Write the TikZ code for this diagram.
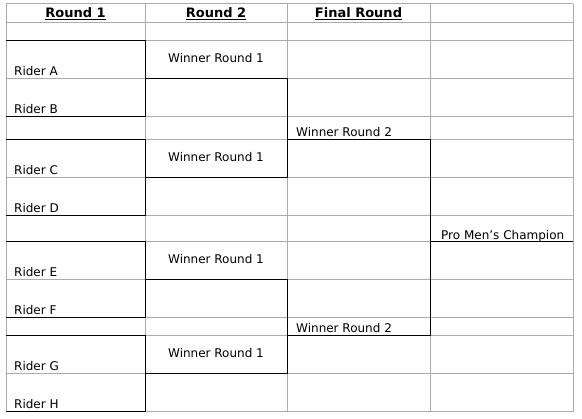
\documentclass[tikz,border=0pt]{standalone}
\usepackage{fontspec}
\setmainfont{DejaVu Sans}
\usepackage{xcolor}
\usepackage{tikz}
\definecolor{cellgray}{HTML}{ABABAB}

\begin{document}
\begin{tikzpicture}[x=1pt, y=-1pt,
    gridline/.style={cellgray, line width=1pt},
    bracket/.style={black, line width=1pt},
    cellhead/.style={anchor=base, inner sep=0pt, font=\fontsize{13}{15}\selectfont\bfseries},
    celltext/.style={anchor=base west, inner sep=0pt, font=\fontsize{12}{14}\selectfont},
    winnertext/.style={anchor=base, inner sep=0pt, font=\fontsize{12}{14}\selectfont}]
    \useasboundingbox (0,0) rectangle (582,419);

    % Draw cell grid
    \foreach \y in {4,23,41,79,117,140,178,216,242,280,318,336,374,412}
        \draw[gridline] (6,\y) -- (573,\y);
    \foreach \x in {6,145,287,430,573}
        \draw[gridline] (\x,4) -- (\x,412);

    % Round 1 brackets
    \draw[bracket] (6,41) -- (145,41) -- (145,117) -- (6,117);
    \draw[bracket] (6,140) -- (145,140) -- (145,216) -- (6,216);
    \draw[bracket] (6,242) -- (145,242) -- (145,318) -- (6,318);
    \draw[bracket] (6,336) -- (145,336) -- (145,412) -- (6,412);

    % Round 2 brackets
    \draw[bracket] (145,79) -- (287,79) -- (287,178) -- (145,178);
    \draw[bracket] (145,280) -- (287,280) -- (287,374) -- (145,374);

    % Final round bracket
    \draw[bracket] (287,140) -- (430,140) -- (430,336) -- (287,336);
    \draw[bracket] (430,242) -- (573,242);

    % Headers
    \node[cellhead] (headOne) at (75.5,18) {\underline{Round 1}};
    \node[cellhead] (headTwo) at (216,18) {\underline{Round 2}};
    \node[cellhead] (headFinal) at (358.5,18) {\underline{Final Round}};

    % Riders
    \node[celltext] (riderA) at (14,76) {Rider A};
    \node[celltext] (riderB) at (14,114) {Rider B};
    \node[celltext] (riderC) at (14,175) {Rider C};
    \node[celltext] (riderD) at (14,213) {Rider D};
    \node[celltext] (riderE) at (14,277) {Rider E};
    \node[celltext] (riderF) at (14,315) {Rider F};
    \node[celltext] (riderG) at (14,371) {Rider G};
    \node[celltext] (riderH) at (14,409) {Rider H};

    % Winners
    \node[winnertext] (winOneA) at (216,62.5) {Winner Round 1};
    \node[winnertext] (winOneB) at (216,161.5) {Winner Round 1};
    \node[winnertext] (winOneC) at (216,263.5) {Winner Round 1};
    \node[winnertext] (winOneD) at (216,357.5) {Winner Round 1};
    \node[celltext] (winTwoA) at (296,137) {Winner Round 2};
    \node[celltext] (winTwoB) at (296,333) {Winner Round 2};
    \node[celltext] (champion) at (441,240) {Pro Men’s Champion};
\end{tikzpicture}
\end{document}
